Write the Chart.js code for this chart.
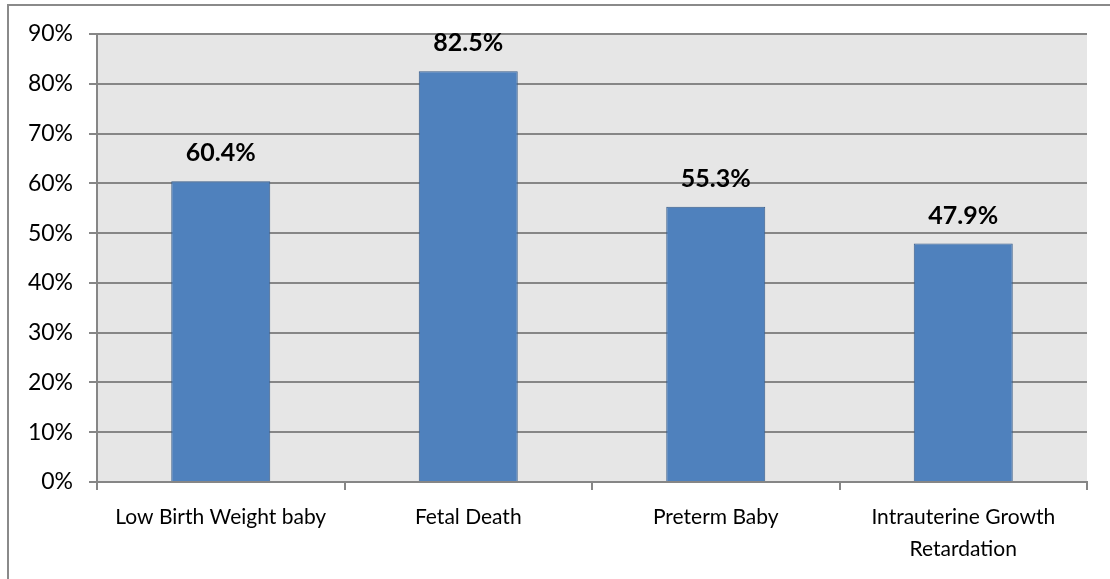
<!DOCTYPE html>
<html>
<head>
<meta charset="utf-8">
<script src="https://cdn.jsdelivr.net/npm/chart.js@4.4.0/dist/chart.umd.min.js"></script>
<style>
  html, body { margin: 0; padding: 0; background: #fff; }
  #wrap { position: relative; width: 1110px; height: 579px; }
</style>
</head>
<body>
<div id="wrap"><canvas id="outcomeChart"></canvas></div>
<script>
const categories = [
    'Low Birth Weight baby',
    'Fetal Death',
    'Preterm Baby',
    ['Intrauterine Growth', 'Retardation']
];
const percentValues = [60.4, 82.5, 55.3, 47.9];
const yTicks = [0, 10, 20, 30, 40, 50, 60, 70, 80, 90];

const fontFamily = 'Lato, "Open Sans", sans-serif';

// grey plot area and the outer frame line
const backdrop = {
    id: 'backdrop',
    beforeDraw(chart) {
        const ctx = chart.ctx;
        const a = chart.chartArea;
        ctx.save();
        ctx.fillStyle = '#e6e6e6';
        ctx.fillRect(a.left, a.top, a.right - a.left, a.bottom - a.top);
        ctx.strokeStyle = '#8a8a8a';
        ctx.lineWidth = 2;
        ctx.beginPath();
        ctx.moveTo(8, chart.height);
        ctx.lineTo(8, 5);
        ctx.lineTo(chart.width, 5);
        ctx.stroke();
        ctx.restore();
    }
};

// value labels above each bar
const valueLabels = {
    id: 'valueLabels',
    afterDatasetsDraw(chart) {
        const ctx = chart.ctx;
        const meta = chart.getDatasetMeta(0);
        ctx.save();
        ctx.font = 'bold 25px ' + fontFamily;
        ctx.fillStyle = '#000';
        ctx.textAlign = 'center';
        ctx.textBaseline = 'alphabetic';
        meta.data.forEach((bar, i) => {
            ctx.fillText(percentValues[i].toFixed(1) + '%', bar.x, bar.y - 20);
        });
        ctx.restore();
    }
};

const ctx = document.getElementById('outcomeChart').getContext('2d');
const outcomeChart = new Chart(ctx, {
    type: 'bar',
    data: {
        labels: categories,
        datasets: [{
            data: percentValues,
            backgroundColor: '#4f81bd',
            borderColor: '#385d8a',
            borderWidth: 1,
            categoryPercentage: 1.0,
            barPercentage: 0.4
        }]
    },
    options: {
        responsive: true,
        maintainAspectRatio: false,
        animation: false,
        layout: {
            padding: { top: 34, right: 23, left: 0, bottom: 0 }
        },
        plugins: {
            legend: { display: false },
            tooltip: { enabled: false }
        },
        scales: {
            x: {
                grid: {
                    drawOnChartArea: false,
                    drawTicks: true,
                    tickLength: 8,
                    color: '#868686',
                    lineWidth: 2
                },
                border: { color: '#868686', width: 2 },
                ticks: {
                    color: '#000',
                    font: { family: fontFamily, size: 21, lineHeight: 1.52 },
                    padding: 11,
                    maxRotation: 0,
                    autoSkip: false
                },
                afterFit(scale) { scale.height = 97; }
            },
            y: {
                min: 0,
                max: 90,
                afterBuildTicks(scale) {
                    scale.ticks = yTicks.map(v => ({ value: v }));
                },
                grid: {
                    color: '#868686',
                    lineWidth: 2,
                    tickLength: 8
                },
                border: { color: '#868686', width: 2 },
                ticks: {
                    color: '#000',
                    font: { family: fontFamily, size: 23 },
                    padding: 16,
                    callback: v => v + '%'
                },
                afterFit(scale) { scale.width = 97; }
            }
        }
    },
    plugins: [backdrop, valueLabels]
});
</script>
</body>
</html>
